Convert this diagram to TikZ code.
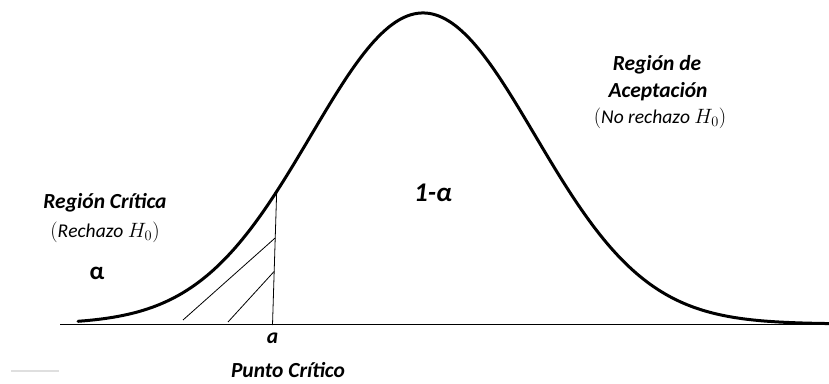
\documentclass[tikz,border=0pt]{standalone}
\usepackage{fontspec}
\setmainfont{Carlito}
\usetikzlibrary{positioning,calc}

\tikzset{
  lbl/.style={font=\bfseries\itshape\fontsize{21.5}{24}\selectfont,inner sep=0pt},
  hyp/.style={font=\fontsize{19.5}{22}\selectfont,inner sep=0pt},
  bell/.style={line width=3pt,line cap=round},
  thin/.style={line width=0.8pt}
}

\begin{document}
\begin{tikzpicture}[x=1pt,y=1pt]
  \useasboundingbox (0,0) rectangle (829,383);
  % eje y curva
  \coordinate (ejeA) at (60,59);
  \coordinate (ejeB) at (829,59);
  \draw[line width=1pt] (ejeA) -- (ejeB);
  \draw[bell] plot[domain=78:829,samples=240,smooth]
    (\x,{59+311*exp(-((\x-423)/112)^2/2)});
  % punto critico y rayado
  \coordinate (pc) at (272.5,58);
  \coordinate (top) at (276.7,192);
  \draw[thin] (pc) -- (top);
  \coordinate (hA) at (183,63);
  \coordinate (hB) at (228,61);
  \draw[thin] (hA) -- ($(pc)!0.65!(top)$);
  \draw[thin] (hB) -- ($(pc)!0.40!(top)$);
  % textos
  \node[lbl] (rc) at (105,180) {Región Crítica};
  \node[hyp] (rch) at (105,151) {$(\mathit{Rechazo}\ H_0)$};
  \node[font=\bfseries\fontsize{25}{28}\selectfont,inner sep=0pt] (alfa) at (97,110) {α};
  \node[lbl,font=\bfseries\itshape\fontsize{27}{30}\selectfont] (uno) at (433,190) {1-α};
  \node[lbl] (ra) at (657,318) {Región de};
  \node[lbl] (ac) at (658,291) {Aceptación};
  \node[hyp] (nrch) at (660,265) {$(\mathit{No\ rechazo}\ H_0)$};
  \node[lbl,below=8pt of pc] (a) {a};
  \node[lbl] (ptc) at (288,13) {Punto Crítico};
  \coordinate (gA) at (11,12);
  \coordinate (gB) at (59,12);
  \draw[gray!25,line width=1.5pt] (gA) -- (gB);
\end{tikzpicture}
\end{document}
